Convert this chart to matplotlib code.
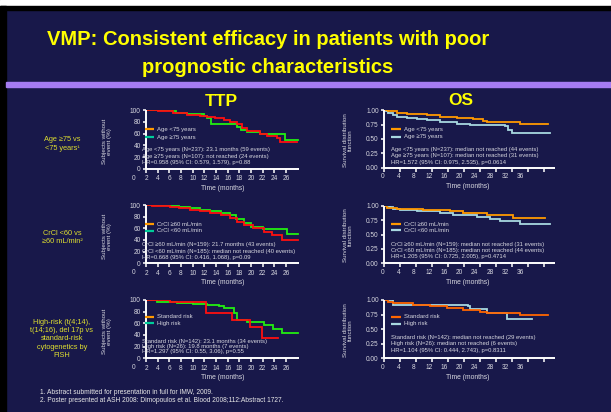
import numpy as np
import matplotlib
matplotlib.use("Agg")
import matplotlib.pyplot as plt
from matplotlib.patches import Rectangle

plt.rcParams['font.family'] = ['Liberation Sans', 'DejaVu Sans']

# ---------------- data ----------------
title_lines = ["VMP: Consistent efficacy in patients with poor", "prognostic characteristics"]
col_titles = ["TTP", "OS"]
row_labels = ["Age \u226575 vs\n<75 years\u00b9",
              "CrCl <60 vs\n\u226560 mL/min\u00b2",
              "High-risk (t(4;14),\nt(14;16), del 17p vs\nstandard-risk\ncytogenetics by\nFISH"]
footnotes = ["1. Abstract submitted for presentation in full for IMW, 2009.",
             "2. Poster presented at ASH 2008: Dimopoulos et al. Blood 2008;112:Abstract 1727."]

legend_labels = [["Age <75 years", "Age \u226575 years"],
                 ["CrCl \u226560 mL/min", "CrCl <60 mL/min"],
                 ["Standard risk", "High risk"]]

ttp_stats = [["Age <75 years (N=237): 23.1 months (59 events)",
              "Age \u226575 years (N=107): not reached (24 events)",
              "HR=0.958 (95% CI: 0.579, 1.579), p=0.88"],
             ["CrCl \u226560 mL/min (N=159): 21.7 months (43 events)",
              "CrCl <60 mL/min (N=185): median not reached (40 events)",
              "HR=0.668 (95% CI: 0.416, 1.068), p=0.09"],
             ["Standard risk (N=142): 23.1 months (34 events)",
              "High risk (N=26): 19.8 months (7 events)",
              "HR=1.297 (95% CI: 0.55, 3.06), p=0.55"]]
os_stats = [["Age <75 years (N=237): median not reached (44 events)",
             "Age \u226575 years (N=107): median not reached (31 events)",
             "HR=1.572 (95% CI: 0.975, 2.535), p=0.0614"],
            ["CrCl \u226560 mL/min (N=159): median not reached (31 events)",
             "CrCl <60 mL/min (N=185): median not reached (44 events)",
             "HR=1.205 (95% CI: 0.725, 2.005), p=0.4714"],
            ["Standard risk (N=142): median not reached (29 events)",
             "High risk (N=26): median not reached (6 events)",
             "HR=1.104 (95% CI: 0.444, 2.743), p=0.8311"]]

ttp_xticks = [2, 4, 6, 8, 10, 12, 14, 16, 18, 20, 22, 24, 26]
ttp_yticks = [0, 20, 40, 60, 80, 100]
os_xticks = [0, 4, 8, 12, 16, 20, 24, 28, 32, 36, 40]
os_xticklabels = ["0", "4", "8", "12", "16", "20", "24", "28", "32", "36"]
os_yticks = [0.0, 0.25, 0.5, 0.75, 1.0]

# TTP curves (red / green), times as on the printed axis
ttp_age_red_t = [2, 4.1, 6.7, 9.0, 11.3, 12.4, 13.8, 15.4, 16.4, 17.5, 18.5, 19.3, 21.6, 22.7, 24.4, 24.9, 27.9]
ttp_age_red_s = [100, 98, 95, 92, 90, 88, 86, 83, 80, 76, 70, 65, 60, 56, 52, 46, 46]
ttp_age_grn_t = [2, 6.4, 7.2, 9.0, 11.9, 12.4, 13.2, 17.5, 18.3, 19.3, 21.6, 25.8, 28.0]
ttp_age_grn_s = [100, 98, 95, 93, 90, 86, 77, 72, 66, 62, 59, 50, 50]

ttp_crcl_red_t = [2, 3.0, 6.1, 7.7, 9.5, 11.3, 13.0, 14.9, 16.4, 17.6, 18.7, 20.4, 22.2, 23.5, 25.3, 28.0]
ttp_crcl_red_s = [100, 99, 96, 94, 91, 89, 87, 83, 77, 71, 66, 60, 53, 49, 40, 40]
ttp_crcl_grn_t = [2, 6.1, 7.7, 9.5, 11.3, 13.0, 14.9, 16.4, 17.4, 18.7, 20.0, 22.1, 26.1, 28.0]
ttp_crcl_grn_s = [100, 98, 96, 94, 92, 90, 87, 83, 76, 69, 63, 58, 51, 51]

ttp_cyto_red_t = [2, 6.1, 12.3, 16.7, 19.8, 21.9, 24.6]
ttp_cyto_red_s = [100, 96, 77, 66, 53, 35, 35]
ttp_cyto_grn_t = [2, 3.9, 7.3, 10.1, 12.4, 14.5, 15.3, 17.0, 17.5, 19.3, 22.2, 23.8, 25.3, 28.0]
ttp_cyto_grn_s = [100, 97, 95, 93, 91, 89, 86, 78, 66, 62, 57, 50, 44, 44]

# OS curves (orange / light blue)
os_age_or_t = [0, 1.1, 3.2, 5.7, 10.7, 14.0, 18.2, 22.3, 24.8, 25.7, 26.1, 34.0, 41.1]
os_age_or_s = [1.0, 0.98, 0.95, 0.93, 0.91, 0.89, 0.87, 0.85, 0.82, 0.80, 0.79, 0.77, 0.77]
os_age_bl_t = [0, 0.5, 1.1, 2.3, 3.2, 5.7, 8.2, 10.7, 14.0, 18.2, 21.5, 30.3, 31.1, 31.9, 41.5]
os_age_bl_s = [1.0, 0.98, 0.95, 0.92, 0.89, 0.87, 0.85, 0.83, 0.80, 0.77, 0.74, 0.72, 0.66, 0.60, 0.60]

os_crcl_or_t = [0, 0.7, 3.2, 9.8, 16.5, 19.8, 25.7, 32.3, 40.3]
os_crcl_or_s = [1.0, 0.965, 0.94, 0.92, 0.90, 0.87, 0.83, 0.78, 0.78]
os_crcl_bl_t = [0, 1.5, 2.3, 4.0, 8.2, 14.0, 17.3, 23.2, 26.5, 29.0, 34.0, 41.5]
os_crcl_bl_s = [1.0, 0.98, 0.95, 0.925, 0.90, 0.87, 0.83, 0.81, 0.77, 0.73, 0.68, 0.68]

os_cyto_or_t = [0, 1.1, 2.3, 7.3, 11.5, 15.7, 19.8, 24.0, 25.7, 34.0, 41.1]
os_cyto_or_s = [1.0, 0.97, 0.94, 0.91, 0.89, 0.86, 0.83, 0.80, 0.77, 0.74, 0.74]
os_cyto_bl_t = [0, 2.3, 21.1, 21.5, 25.7, 30.7, 36.9]
os_cyto_bl_s = [1.0, 0.91, 0.89, 0.84, 0.77, 0.67, 0.67]

ttp_curves = [((ttp_age_grn_t, ttp_age_grn_s), (ttp_age_red_t, ttp_age_red_s)),
              ((ttp_crcl_grn_t, ttp_crcl_grn_s), (ttp_crcl_red_t, ttp_crcl_red_s)),
              ((ttp_cyto_grn_t, ttp_cyto_grn_s), (ttp_cyto_red_t, ttp_cyto_red_s))]
os_curves = [((os_age_bl_t, os_age_bl_s), (os_age_or_t, os_age_or_s)),
             ((os_crcl_bl_t, os_crcl_bl_s), (os_crcl_or_t, os_crcl_or_s)),
             ((os_cyto_bl_t, os_cyto_bl_s), (os_cyto_or_t, os_cyto_or_s))]

# ---------------- style ----------------
W, H = 611, 412
NAVY = '#18184a'
YEL = '#ffff00'
LBL = '#dede30'
TXT = '#d8d8e0'
WHITE = '#ffffff'
RED = '#ff1010'
GRN = '#22ee11'
ORG = '#ff9900'
ORG2 = '#ff6600'
LBLUE = '#a8d8e0'
TEAL = '#00cc99'

fig = plt.figure(figsize=(W / 100, H / 100), dpi=100)
fig.patch.set_facecolor(NAVY)

bg = fig.add_axes([0, 0, 1, 1], zorder=-10)
bg.set_xlim(0, W); bg.set_ylim(H, 0); bg.axis('off')
bg.add_patch(Rectangle((0, 0), W, H, color=NAVY))
bg.add_patch(Rectangle((0, 0), W, 6, color='white'))
bg.add_patch(Rectangle((0, 6), W, 3.5, color='#000000'))
bg.add_patch(Rectangle((0, 6), 6, H, color='#000000'))
bg.add_patch(Rectangle((6, 81.7), W, 5.6, color='#a57cf2'))

ov = fig.add_axes([0, 0, 1, 1], zorder=10)
ov.set_xlim(0, W); ov.set_ylim(H, 0); ov.axis('off')
ov.patch.set_alpha(0)


def add_ax(x0, x1, ytop, ybot):
    a = fig.add_axes([x0 / W, 1 - ybot / H, (x1 - x0) / W, (ybot - ytop) / H])
    a.patch.set_alpha(0)
    for s in ['top', 'right']:
        a.spines[s].set_visible(False)
    for s in ['left', 'bottom']:
        a.spines[s].set_color(WHITE)
        a.spines[s].set_linewidth(1.4)
        a.spines[s].set_capstyle('butt')
    a.tick_params(axis='both', colors=WHITE, labelcolor=TXT, labelsize=4.7,
                  width=1.1, direction='out')
    a.tick_params(axis='x', length=3.2, pad=1.6)
    a.tick_params(axis='y', length=2.5, pad=1.2)
    return a


# title
ov.text(268, 45, title_lines[0], ha='center', va='baseline', color=YEL,
        fontsize=14.5, fontweight='bold')
ov.text(268, 73, title_lines[1], ha='center', va='baseline', color=YEL,
        fontsize=14.5, fontweight='bold')
ov.text(221, 106, col_titles[0], ha='center', va='baseline', color=YEL, fontsize=12.5, fontweight='bold')
ov.text(461, 105, col_titles[1], ha='center', va='baseline', color=YEL, fontsize=12.5, fontweight='bold')

ttp_rows = [(110.3, 168.7), (205.0, 263.3), (300.0, 358.3)]
os_rows = [(110.3, 167.7), (205.7, 263.3), (300.0, 358.3)]
ttp_leg_y = [(129, 137), (224, 230.7), (316.7, 323.3)]
os_leg_y = [(129, 136.7), (224.3, 230), (316.7, 324)]
ttp_stat_y = [(150, 156, 162), (244, 251, 257.5), (341, 346.7, 352)]
os_stat_y = [(149, 155.5, 162), (244, 250, 256.7), (337.7, 344, 350.7)]
row_label_y = [144, 237.5, 339]
os_leg_cols = [(ORG, LBLUE), (ORG, LBLUE), (ORG2, LBLUE)]
os_curve_cols = [(LBLUE, ORG), (LBLUE, ORG), (LBLUE, ORG2)]

for i in range(3):
    # ---- TTP ----
    yt, yb = ttp_rows[i]
    a = add_ax(146, 299, yt, yb)
    (gt, gs), (rt, rs) = ttp_curves[i]
    a.step(gt, gs, where='post', color=GRN, lw=1.3, solid_joinstyle='miter')
    a.step(rt, rs, where='post', color=RED, lw=1.3, solid_joinstyle='miter')
    a.set_xlim(2, 28.2)
    a.set_ylim(0, 100)
    a.set_xticks(ttp_xticks)
    a.set_yticks(ttp_yticks)
    ov.text(134, yb + 9.6, "0", ha='center', va='center', color=TXT, fontsize=4.7)
    ov.text(222.5, yb + 19.5, "Time (months)", ha='center', va='center', color=TXT, fontsize=4.9)
    ov.text(107, (yt + yb) / 2 + 2, "Subjects without\nevent (%)", rotation=90, ha='center',
            va='center', color=TXT, fontsize=4.5, linespacing=1.15, multialignment='center')
    ly1, ly2 = ttp_leg_y[i]
    ov.plot([145, 154], [ly1, ly1], color=ORG, lw=1.6, solid_capstyle='butt')
    ov.plot([145, 154], [ly2, ly2], color=TEAL, lw=1.6, solid_capstyle='butt')
    ov.text(157, ly1, legend_labels[i][0], ha='left', va='center', color=TXT, fontsize=4.3)
    ov.text(157, ly2, legend_labels[i][1], ha='left', va='center', color=TXT, fontsize=4.3)
    for s, yy in zip(ttp_stats[i], ttp_stat_y[i]):
        ov.text(142, yy, s, ha='left', va='center', color=TXT, fontsize=4.25)

    # ---- OS ----
    yt, yb = os_rows[i]
    b = add_ax(384, 555, yt, yb)
    (bt, bs), (ot, osv) = os_curves[i]
    cb, co = os_curve_cols[i]
    b.step(bt, bs, where='post', color=cb, lw=1.3, solid_joinstyle='miter')
    b.step(ot, osv, where='post', color=co, lw=1.3, solid_joinstyle='miter')
    b.set_xlim(0, 42.75)
    b.set_ylim(0, 1.0)
    b.set_xticks(os_xticks)
    b.set_xticklabels([])
    b.set_yticks(os_yticks)
    b.set_yticklabels(["%.2f" % v for v in os_yticks])
    for k, lab in enumerate(os_xticklabels):
        ov.text(383 + k * 15.26, yb + 9.0, lab, ha='center', va='center', color=TXT, fontsize=4.7)
    ov.text(468, yb + 19, "Time (months)", ha='center', va='center', color=TXT, fontsize=4.9)
    ov.text(348, (yt + yb) / 2 + 1, "Survival distribution\nfunction", rotation=90, ha='center',
            va='center', color=TXT, fontsize=4.5, linespacing=1.15, multialignment='center')
    ly1, ly2 = os_leg_y[i]
    c1, c2 = os_leg_cols[i]
    ov.plot([391, 401], [ly1, ly1], color=c1, lw=1.6, solid_capstyle='butt')
    ov.plot([391, 401], [ly2, ly2], color=c2, lw=1.6, solid_capstyle='butt')
    ov.text(403.5, ly1, legend_labels[i][0], ha='left', va='center', color=TXT, fontsize=4.3)
    ov.text(403.5, ly2, legend_labels[i][1], ha='left', va='center', color=TXT, fontsize=4.3)
    for s, yy in zip(os_stats[i], os_stat_y[i]):
        ov.text(390.7, yy, s, ha='left', va='center', color=TXT, fontsize=4.25)

    # row label
    ov.text(62, row_label_y[i], row_labels[i], ha='center', va='center', color=LBL,
            fontsize=5.3, linespacing=1.25, multialignment='center')

ov.text(40, 392, footnotes[0], ha='left', va='center', color='#e8e8e8', fontsize=4.8)
ov.text(40, 400, footnotes[1], ha='left', va='center', color='#e8e8e8', fontsize=4.8)

fig.savefig("out.png", dpi=100, facecolor=fig.get_facecolor())
